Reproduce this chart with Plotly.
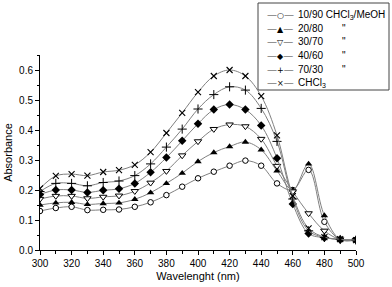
import plotly.graph_objects as go

wavelength = [300, 310, 320, 330, 340, 350, 360, 370, 380, 390, 400,
              410, 420, 430, 440, 450, 460, 470, 480, 490, 500]

abs_10_90 = [0.130, 0.140, 0.144, 0.133, 0.134, 0.135, 0.144, 0.159, 0.183, 0.211, 0.239,
             0.261, 0.281, 0.298, 0.281, 0.222, 0.200, 0.267, 0.094, 0.035, 0.034]
abs_20_80 = [0.150, 0.157, 0.159, 0.152, 0.155, 0.157, 0.169, 0.191, 0.222, 0.256, 0.295,
             0.325, 0.345, 0.360, 0.334, 0.264, 0.200, 0.287, 0.115, 0.035, 0.033]
abs_30_70 = [0.170, 0.180, 0.180, 0.172, 0.177, 0.181, 0.196, 0.224, 0.263, 0.315, 0.362,
             0.403, 0.418, 0.412, 0.370, 0.280, 0.195, 0.122, 0.064, 0.035, 0.033]
abs_40_60 = [0.185, 0.200, 0.200, 0.192, 0.199, 0.204, 0.222, 0.259, 0.308, 0.364, 0.421,
             0.468, 0.485, 0.468, 0.415, 0.306, 0.153, 0.055, 0.041, 0.035, 0.033]
abs_70_30 = [0.195, 0.222, 0.222, 0.214, 0.225, 0.230, 0.248, 0.287, 0.343, 0.403, 0.470,
             0.518, 0.544, 0.533, 0.472, 0.362, 0.170, 0.064, 0.042, 0.035, 0.033]
abs_chcl3 = [0.205, 0.247, 0.253, 0.248, 0.260, 0.266, 0.284, 0.326, 0.390, 0.457, 0.526,
             0.580, 0.600, 0.580, 0.513, 0.382, 0.180, 0.072, 0.043, 0.036, 0.033]

series_names = ["10/90 CHCl<sub>3</sub>/MeOH", "20/80", "30/70", "40/60", "70/30", "CHCl<sub>3</sub>"]
ditto_flags = [False, True, True, True, True, False]
series_values = [abs_10_90, abs_20_80, abs_30_70, abs_40_60, abs_70_30, abs_chcl3]
legend_glyphs = ["\u25cb", "\u25b2", "\u25bd", "\u25c6", "+", "\u00d7"]

marker_styles = [
    dict(symbol="circle", color="white", size=5.5, line=dict(color="black", width=1)),
    dict(symbol="triangle-up", color="black", size=6.5, line=dict(color="black", width=0)),
    dict(symbol="triangle-down", color="white", size=6.5, line=dict(color="black", width=1)),
    dict(symbol="diamond", color="black", size=6.5, line=dict(color="black", width=0)),
    dict(symbol="cross-thin", color="black", size=6.5, line=dict(color="black", width=1)),
    dict(symbol="x-thin", color="black", size=6, line=dict(color="black", width=1.1)),
]

fig = go.Figure()
for name, vals, mk in zip(series_names, series_values, marker_styles):
    fig.add_trace(go.Scatter(
        x=wavelength, y=vals, name=name, mode="lines+markers",
        line=dict(color="#808080", width=1, shape="spline", smoothing=1),
        marker=mk, showlegend=False,
    ))

# ---- legend box drawn as text annotations (pixel layout -> paper coords)
W, H = 392, 287
ML, MR, MT, MB = 40, 36, 55, 37
PW, PH = W - ML - MR, H - MT - MB

def px_x(p):
    return (p - ML) / PW

def px_y(p):
    return (H - MB - p) / PH

fig.add_shape(type="rect", xref="paper", yref="paper",
              x0=px_x(258), x1=px_x(389), y0=px_y(90), y1=px_y(3),
              line=dict(color="#444444", width=1), fillcolor="white", layer="above")

row_top, row_step = 14.7, 13.6
for i, (name, glyph, ditto) in enumerate(zip(series_names, legend_glyphs, ditto_flags)):
    ry = px_y(row_top + i * row_step)
    dash = "<span style='color:#7a7a7a'>\u2014</span>"
    fig.add_annotation(xref="paper", yref="paper", x=px_x(280), y=ry,
                       xanchor="center", yanchor="middle", showarrow=False,
                       text=f"{dash}<span style='font-size:8px'>{glyph}</span>{dash}",
                       font=dict(size=10, color="black", family="DejaVu Sans, sans-serif"))
    fig.add_annotation(xref="paper", yref="paper", x=px_x(296), y=ry,
                       xanchor="left", yanchor="middle", showarrow=False, text=name,
                       font=dict(size=10, color="black"))
    if ditto:
        fig.add_annotation(xref="paper", yref="paper", x=px_x(344), y=ry,
                           xanchor="center", yanchor="middle", showarrow=False, text='"',
                           font=dict(size=10, color="black"))

font_family = "Liberation Sans, Arial, sans-serif"
fig.update_layout(
    width=W, height=H,
    margin=dict(l=ML, r=MR, t=MT, b=MB),
    paper_bgcolor="white", plot_bgcolor="white",
    font=dict(family=font_family, size=10, color="black"),
    showlegend=False,
    xaxis=dict(range=[300, 500], dtick=20, tick0=300, ticks="outside", ticklen=4,
               tickwidth=1, tickcolor="black", showline=True, linecolor="black",
               linewidth=1, showgrid=False, zeroline=False, automargin=False,
               minor=dict(dtick=10, ticks="outside", ticklen=2.5, tickcolor="black", showgrid=False),
               title=dict(text="Wavelenght (nm)", font=dict(size=11), standoff=4),
               tickfont=dict(size=10)),
    yaxis=dict(range=[0, 0.65], dtick=0.1, tick0=0, tickformat=".1f", ticks="outside",
               ticklen=4, tickwidth=1, tickcolor="black", showline=True, linecolor="black",
               linewidth=1, showgrid=False, zeroline=False, automargin=False,
               minor=dict(dtick=0.05, ticks="outside", ticklen=2.5, tickcolor="black", showgrid=False),
               title=dict(text="Absorbance", font=dict(size=11), standoff=4),
               tickfont=dict(size=10)),
)

fig.write_html("out.html", config={"displayModeBar": False},
               post_script="document.body.style.margin='0px';document.body.style.overflow='hidden';")
